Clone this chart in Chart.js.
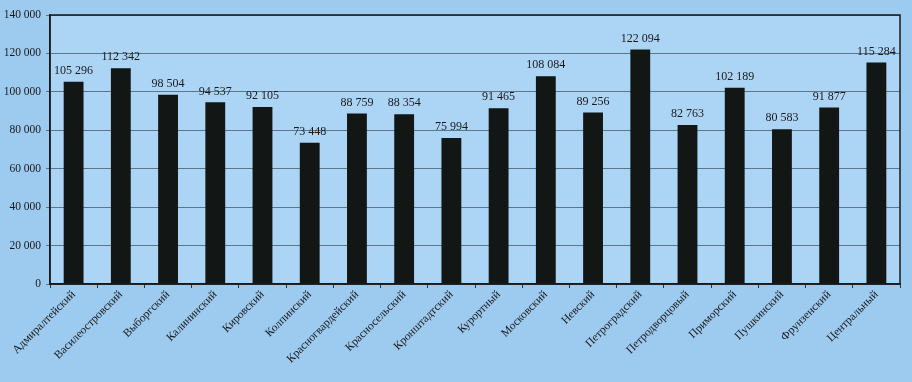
<!DOCTYPE html>
<html><head><meta charset="utf-8">
<script src="https://cdn.jsdelivr.net/npm/chart.js@4"></script>
<style>
html,body{margin:0;padding:0;background:#9dcaef;}
#wrap{width:912px;height:382px;position:relative;}
</style></head>
<body><div id="wrap"><canvas id="c" width="912" height="382"></canvas></div>
<script>
const categories = ["Адмиралтейский","Василеостровский","Выборгский","Калининский","Кировский","Колпинский","Красногвардейский","Красносельский","Кронштадтский","Курортный","Московский","Невский","Петроградский","Петродворцовый","Приморский","Пушкинский","Фрунзенский","Центральный"];
const values = [105296,112342,98504,94537,92105,73448,88759,88354,75994,91465,108084,89256,122094,82763,102189,80583,91877,115284];
const yTicks = [0,20000,40000,60000,80000,100000,120000,140000];

const fmt = v => String(v).replace(/\B(?=(\d{3})+(?!\d))/g, ' ');

const valueLabels = {
  id: 'valueLabels',
  afterDatasetsDraw(chart) {
    const ctx = chart.ctx;
    const meta = chart.getDatasetMeta(0);
    ctx.save();
    ctx.font = '12px "Liberation Serif", "Times New Roman", serif';
    ctx.fillStyle = '#1a1a1a';
    ctx.textAlign = 'center';
    ctx.textBaseline = 'bottom';
    meta.data.forEach((bar, i) => {
      ctx.fillText(fmt(values[i]), bar.x, bar.y - 5);
    });
    ctx.restore();
  }
};
const plotBg = {
  id: 'plotBg',
  beforeDraw(chart) {
    const {ctx, chartArea: a} = chart;
    ctx.save();
    ctx.fillStyle = '#acd4f5';
    ctx.fillRect(a.left, a.top, a.right - a.left, a.bottom - a.top);
    ctx.restore();
  },
  afterDraw(chart) {
    const {ctx, chartArea: a} = chart;
    ctx.save();
    ctx.strokeStyle = '#1a1a1a';
    ctx.lineWidth = 1.5;
    ctx.strokeRect(a.left, a.top, a.right - a.left, a.bottom - a.top);
    ctx.restore();
  }
};

new Chart(document.getElementById('c'), {
  type: 'bar',
  data: {
    labels: categories,
    datasets: [{ data: values, backgroundColor: '#121614', categoryPercentage: 1, barPercentage: 0.42 }]
  },
  options: {
    responsive: false,
    animation: false,
    layout: { padding: { top: 15, right: 12, left: 0, bottom: 0 } },
    plugins: { legend: { display: false }, tooltip: { enabled: false } },
    scales: {
      x: {
        afterFit(axis) { axis.height = 98; },
        grid: { offset: true, drawOnChartArea: false, drawTicks: true, tickLength: 4, color: '#333' },
        border: { color: '#1a1a1a', width: 1.5 },
        ticks: {
          maxRotation: 45, minRotation: 45, autoSkip: false, padding: 0,
          color: '#1a1a1a',
          font: { family: '"Liberation Serif", "Times New Roman", serif', size: 11.5 }
        }
      },
      y: {
        min: 0, max: 140000,
        afterFit(axis) { axis.width = 50; },
        afterBuildTicks(axis) { axis.ticks = yTicks.map(v => ({ value: v })); },
        grid: { color: '#46606f', lineWidth: 0.8, drawTicks: true, tickLength: 4 },
        border: { color: '#1a1a1a', width: 1.5 },
        ticks: {
          color: '#1a1a1a', padding: 5,
          font: { family: '"Liberation Serif", "Times New Roman", serif', size: 11.5 },
          callback: v => fmt(v)
        }
      }
    }
  },
  plugins: [plotBg, valueLabels]
});
</script></body></html>
